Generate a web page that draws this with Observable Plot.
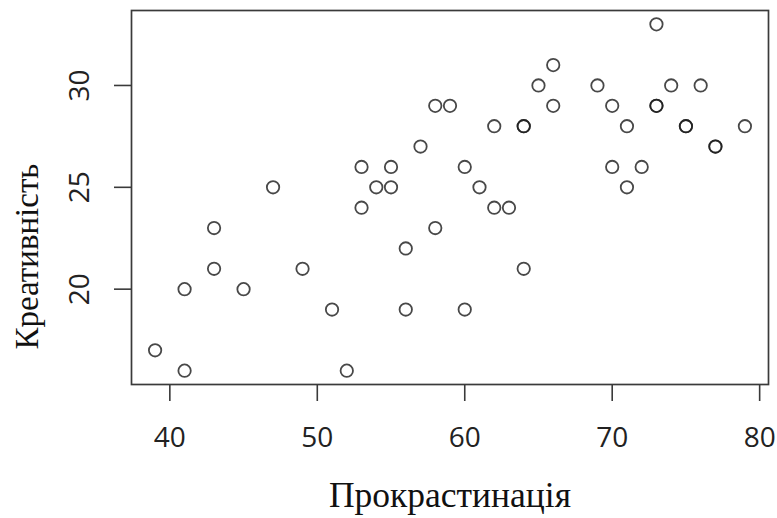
<!DOCTYPE html>
<html>
<head>
<meta charset="utf-8">
<script src="https://cdn.jsdelivr.net/npm/d3@7"></script>
<script src="https://cdn.jsdelivr.net/npm/@observablehq/plot@0.6"></script>
<style>
  html, body { margin: 0; padding: 0; background: #fff; }
</style>
</head>
<body>
<div id="chart"></div>
<script>
// Прокрастинація (x) and Креативність (y)
const procrastination = [39, 41, 41, 43, 43, 45, 47, 49, 51, 52, 53, 53, 54, 55, 55, 56, 56, 57, 58, 58, 59, 60, 60, 61, 62, 62, 63, 64, 64, 64, 65, 66, 66, 69, 70, 70, 71, 71, 72, 73, 73, 73, 74, 75, 75, 76, 77, 77, 79];
const creativity      = [17, 16, 20, 21, 23, 20, 25, 21, 19, 16, 24, 26, 25, 25, 26, 22, 19, 27, 29, 23, 29, 26, 19, 25, 28, 24, 24, 28, 28, 21, 30, 31, 29, 30, 29, 26, 28, 25, 26, 33, 29, 29, 30, 28, 28, 30, 27, 27, 28];
const xTicks = [40, 50, 60, 70, 80];
const yTicks = [20, 25, 30];
const xTitle = "Прокрастинація";
const yTitle = "Креативність";

const data = procrastination.map((x, i) => ({x, y: creativity[i]}));

const sans = "'Open Sans', 'DejaVu Sans', sans-serif";
const serif = "'Liberation Serif', 'DejaVu Serif', serif";

const chart = Plot.plot({
  width: 777,
  height: 518,
  marginLeft: 131,
  marginRight: 9,
  marginTop: 10,
  marginBottom: 134,
  style: {background: "#fff", color: "#222"},
  x: {domain: [37.4, 80.6]},
  y: {domain: [15.32, 33.68]},
  marks: [
    Plot.axisX({
      ticks: xTicks, tickSize: 17, tickPadding: 26,
      fontSize: 28, fontFamily: sans, label: null,
      stroke: "#3a3a3a", strokeWidth: 1.6, fill: "#222"
    }),
    Plot.axisY({
      ticks: yTicks, tickSize: 17, tickFormat: () => "", label: null,
      stroke: "#3a3a3a", strokeWidth: 1.6
    }),
    Plot.text(yTicks, {
      y: d => d, text: d => String(d), frameAnchor: "left", dx: -51,
      rotate: -90, textAnchor: "middle", lineAnchor: "middle",
      fontSize: 28, fontFamily: sans, fill: "#222"
    }),
    Plot.frame({stroke: "#3a3a3a", strokeWidth: 1.7}),
    Plot.dot(data, {
      x: "x", y: "y", r: 6.2, fill: "none",
      stroke: "#1a1a1a", strokeOpacity: 0.8, strokeWidth: 1.8
    }),
    Plot.text([xTitle], {
      text: d => d, frameAnchor: "bottom", dy: 122, lineAnchor: "bottom",
      fontSize: 35.5, fontFamily: serif, fill: "#111"
    }),
    Plot.text([yTitle], {
      text: d => d, y: () => 21.6, frameAnchor: "left", dx: -94, rotate: -90,
      textAnchor: "middle", lineAnchor: "bottom",
      fontSize: 33, fontFamily: serif, fill: "#111"
    })
  ]
});
document.getElementById("chart").appendChild(chart);
</script>
</body>
</html>
